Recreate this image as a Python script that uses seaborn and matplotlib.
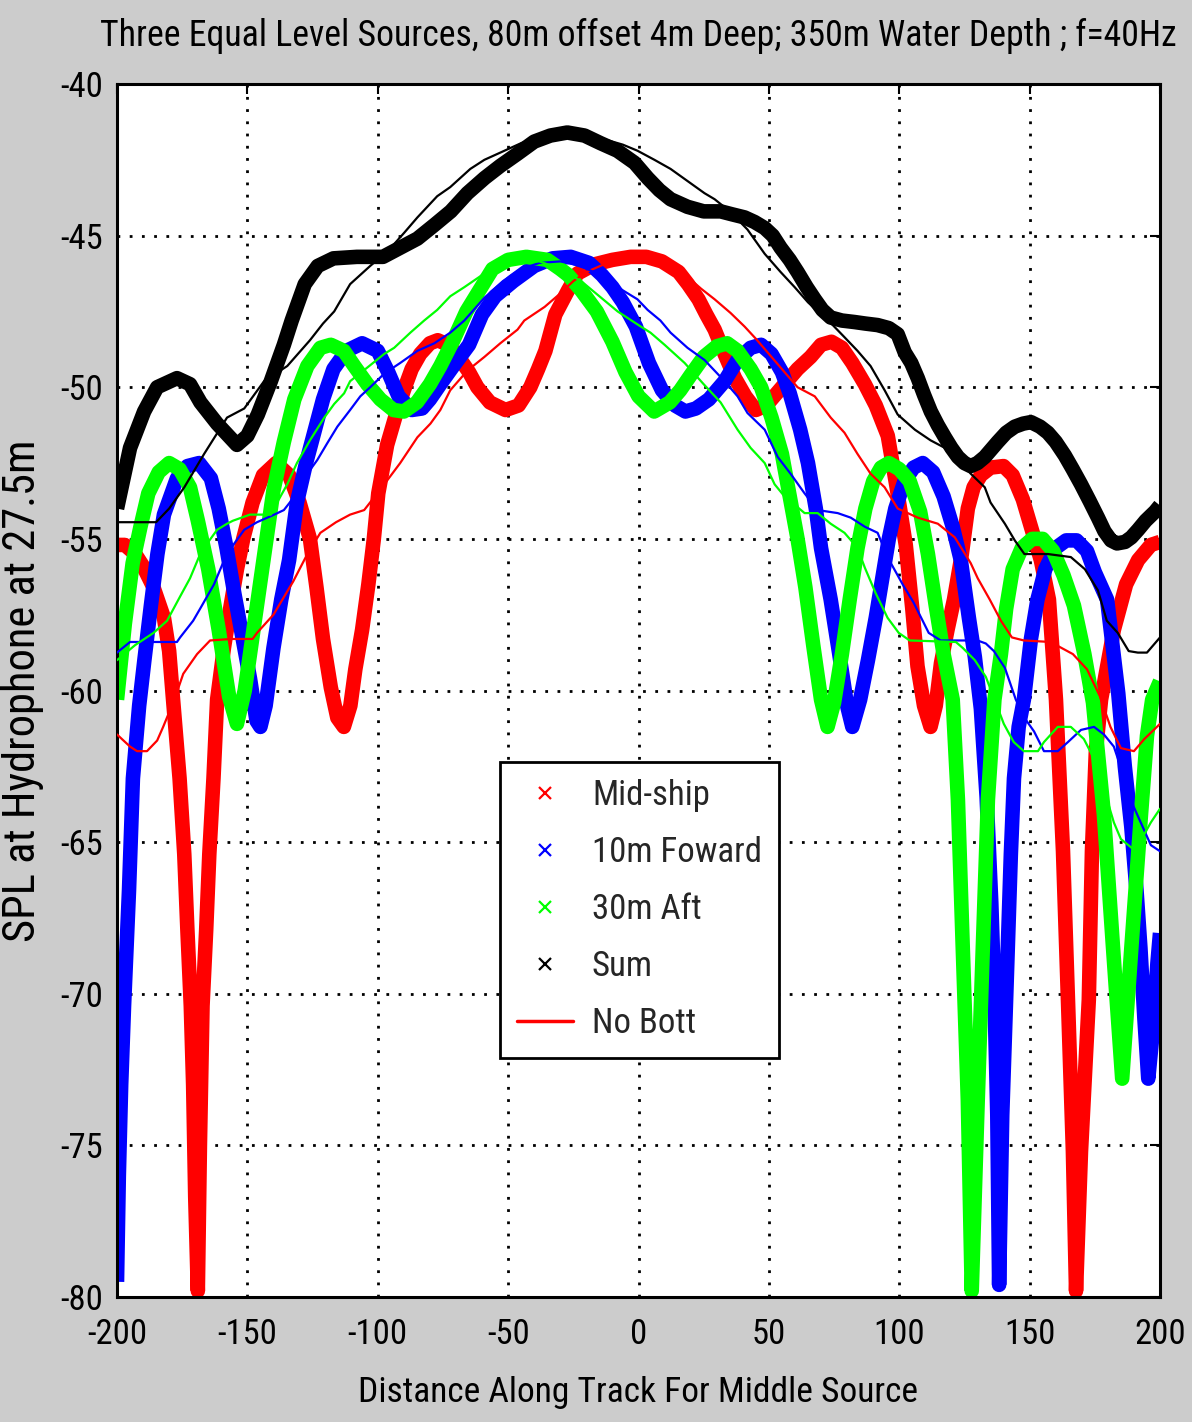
import matplotlib
matplotlib.use('Agg')
import matplotlib.pyplot as plt
from matplotlib import font_manager
from matplotlib.lines import Line2D
import seaborn as sns

# ---- data (x in m, SPL in dB) ----
# thick x-marker curves
mid_x = [-200, -197, -193, -190, -186, -182, -180, -178.5, -176, -174.2, -173, -171.7, -170.8, -170, -169, -168.2,
         -167.2, -165.8, -164.6, -163, -161.6, -159, -156.6, -154, -151.6, -148, -144, -139, -134, -130, -126,
         -123.5, -121, -118, -115.5, -113, -110.5, -108.6, -106, -103.6, -101.5, -99.8, -96.4, -93, -90, -87,
         -83.7, -80, -77, -73, -69, -65, -61.8, -57, -51, -46, -41.5, -38.5, -35.7, -31.9, -27, -23.4, -17, -10,
         -3, 3, 9, 15.4, 19, 23, 26, 29.2, 33, 37, 41, 45, 49, 53, 57, 61, 66, 70, 74, 78, 82, 86.8, 91, 95.6,
         99, 102.5, 105, 107, 109.5, 112, 114, 116, 118.5, 121, 124, 126.3, 128.5, 131.3, 135, 140, 143.5, 147.4,
         150.5, 154.3, 157.4, 160.1, 162.8, 164.7, 166.6, 167.8, 169.7, 172.7, 173.9, 175.4, 177.4, 182.3, 187,
         191.6, 196.5, 200]
mid_y = [-55.2, -55.2, -55.5, -55.9, -56.6, -57.6, -58.7, -60.3, -62.9, -65.4, -67.9, -70.4, -73.0, -76.7, -79.8,
         -75.0, -70.4, -67.9, -65.4, -62.9, -60.3, -58.6, -57.3, -56.0, -55.0, -53.8, -52.9, -52.5, -52.9, -53.8,
         -55.0, -56.6, -58.3, -59.9, -60.9, -61.2, -60.5, -59.3, -58.0, -56.5, -55.0, -53.5, -51.9, -50.9, -50.1,
         -49.4, -48.9, -48.55, -48.45, -48.6, -49.0, -49.5, -50.0, -50.5, -50.75, -50.6, -50.0, -49.4, -48.8,
         -47.6, -46.8, -46.25, -45.95, -45.8, -45.7, -45.7, -45.85, -46.2, -46.6, -47.1, -47.6, -48.1, -48.9,
         -49.7, -50.3, -50.75, -50.6, -50.2, -49.8, -49.4, -49.0, -48.6, -48.5, -48.7, -49.2, -49.9, -50.6, -51.6,
         -53.3, -55.2, -57.3, -59.2, -60.5, -61.2, -60.5, -59.1, -58.0, -57.0, -55.5, -54.0, -53.3, -52.9, -52.65,
         -52.6, -52.9, -53.7, -54.6, -55.7, -57.0, -60.3, -65.3, -70.2, -75.2, -79.8, -75.2, -70.2, -65.3, -62.0,
         -60.3, -58.0, -56.5, -55.7, -55.2, -55.1]

fwd_x = [-200, -199.3, -198.4, -197.3, -195.4, -193.9, -191.5, -189.5, -187, -184.5, -182, -177, -173, -168.5, -164,
         -161, -158, -155, -152, -149, -146.5, -145, -143, -140, -137, -134, -131, -127.5, -124.4, -121, -117, -112,
         -106, -100, -96, -92, -87, -83, -80, -76, -71, -65, -60, -55, -48, -40, -33, -26, -19, -14, -10, -6, -1, 4,
         9, 14, 18, 22, 27, 33, 38, 43, 47, 51, 55, 58, 62, 65, 68, 70, 73.7, 77, 80, 82, 85, 88, 91, 93.5, 96, 98.5,
         102, 105.5, 109, 113, 117, 120.5, 123.6, 126.7, 129, 131.3, 133.5, 135.3, 136.6, 137.6, 138.3, 139.5,
         140.9, 142.8, 144, 145.8, 147.8, 150.5, 153, 156, 160, 164, 168, 172, 175, 179.7, 184, 186.5, 189, 191,
         192.5, 194, 195.5, 197.5, 199, 200]
fwd_y = [-79.5, -76.0, -73.0, -70.4, -66.6, -62.9, -60.5, -59.0, -57.2, -55.5, -54.2, -53.0, -52.6, -52.5, -53.0,
         -54.0, -55.3, -56.8, -58.2, -59.6, -61.0, -61.2, -60.5, -58.6, -57.0, -55.7, -53.8, -52.5, -51.5, -50.4,
         -49.4, -48.8, -48.55, -48.8, -49.5, -50.3, -50.75, -50.7, -50.4, -49.9, -49.3, -48.6, -47.6, -47.0, -46.5,
         -46.0, -45.75, -45.7, -45.9, -46.3, -46.7, -47.2, -48.0, -49.2, -50.1, -50.6, -50.8, -50.7, -50.4, -49.8,
         -49.1, -48.7, -48.6, -48.9, -49.5, -50.2, -51.4, -52.5, -54.0, -55.3, -57.0, -58.8, -60.5, -61.2, -60.3,
         -59.0, -57.6, -56.3, -55.0, -54.0, -53.1, -52.65, -52.5, -52.8, -53.6, -54.6, -55.7, -57.6, -58.9, -60.6,
         -63.5, -67.0, -70.4, -74.0, -79.6, -74.0, -70.4, -65.4, -62.9, -61.2, -60.3, -58.3, -57.0, -56.0, -55.3,
         -55.05, -55.05, -55.4, -56.1, -57.0, -60.1, -62.5, -64.5, -66.6, -68.5, -70.8, -72.8, -71.0, -69.0, -68.0]

aft_x = [-200, -197, -194, -191, -188, -184, -180, -176, -172, -169, -165, -161, -157, -154, -151, -148, -146, -143,
         -140, -136, -132, -127, -122, -118, -113, -109, -104, -99, -94, -90, -85, -80, -76, -71, -66, -61, -56, -50,
         -43, -35, -30, -27, -22, -16, -10, -5, 0, 6, 12, 16, 20, 25, 30, 34, 38, 43, 47, 51, 55, 58, 61, 64, 67, 70,
         72.5, 75, 78, 81, 84, 87, 90, 93, 96, 100, 104, 108, 111, 114, 117, 120.5, 122.5, 124.4, 126.3, 127.8,
         130.1, 132, 134, 136.5, 139, 141, 143.5, 147, 151, 155, 159, 163, 167, 171, 174.3, 178.5, 182, 185.5, 189,
         192.7, 195, 197, 200]
aft_y = [-60.3, -57.8, -55.8, -54.6, -53.5, -52.8, -52.5, -52.7, -53.3, -54.4, -56.0, -58.0, -60.2, -61.1, -60.0,
         -58.2, -57.0, -55.2, -53.4, -51.8, -50.4, -49.3, -48.7, -48.6, -48.8, -49.3, -49.9, -50.4, -50.75, -50.8,
         -50.5, -49.9, -49.3, -48.45, -47.5, -46.8, -46.1, -45.8, -45.7, -45.8, -46.1, -46.3, -46.8, -47.5, -48.5,
         -49.5, -50.3, -50.8, -50.5, -50.1, -49.6, -49.0, -48.65, -48.55, -48.8, -49.4, -50.0, -51.0, -52.2, -53.6,
         -55.0, -56.6, -58.5, -60.3, -61.2, -60.4, -58.8, -57.0, -55.3, -54.0, -53.1, -52.65, -52.5, -52.7, -53.1,
         -54.1, -55.5, -57.2, -58.8, -60.3, -63.6, -68.6, -73.5, -79.8, -73.5, -68.6, -63.6, -60.3, -58.8, -57.3,
         -56.0, -55.3, -55.0, -55.0, -55.4, -56.2, -57.2, -58.8, -60.4, -64.1, -68.5, -72.8, -68.5, -64.1, -61.5,
         -60.3, -59.7]

sum_x = [-200, -197.5, -195, -189.6, -184.6, -177, -172, -168, -161.6, -154, -150, -146, -141, -136, -133, -128,
         -123, -117, -108, -98, -91.4, -84.8, -78.3, -72, -65.6, -59, -53, -46.4, -40, -33.8, -27.3, -20.7, -14.6,
         -8.1, -1.5, 3.5, 8, 12.3, 18.8, 25, 31.5, 36, 40.7, 44.5, 48.4, 51.5, 54.5, 58, 61, 64.5, 67.6, 70.5, 73.7,
         78, 82.9, 87, 91.7, 96, 99.4, 102.1, 104.6, 107.1, 109.5, 112.1, 114.8, 117.5, 120, 122.5, 125, 127.4, 130,
         132.8, 135.3, 137.8, 141, 144.3, 147.5, 150.5, 154, 157, 160, 163.5, 166.5, 169.7, 173, 176.2, 178.7,
         181.2, 183.5, 186.6, 189, 191.6, 194.5, 198.1, 200]
sum_y = [-54.0, -53.0, -52.0, -50.8, -50.0, -49.7, -49.9, -50.5, -51.2, -51.9, -51.6, -50.9, -49.8, -48.6, -47.8,
         -46.6, -46.0, -45.75, -45.7, -45.7, -45.4, -45.1, -44.65, -44.2, -43.6, -43.1, -42.7, -42.3, -41.9, -41.7,
         -41.6, -41.7, -41.95, -42.2, -42.6, -43.1, -43.5, -43.8, -44.05, -44.2, -44.2, -44.3, -44.4, -44.55, -44.75,
         -45.0, -45.4, -45.8, -46.2, -46.7, -47.1, -47.45, -47.7, -47.8, -47.85, -47.9, -47.95, -48.05, -48.25,
         -48.85, -49.2, -49.7, -50.25, -50.8, -51.25, -51.65, -52.0, -52.3, -52.5, -52.6, -52.5, -52.3, -52.05,
         -51.8, -51.5, -51.3, -51.2, -51.15, -51.3, -51.5, -51.8, -52.25, -52.7, -53.2, -53.75, -54.3, -54.75,
         -55.05, -55.15, -55.1, -54.95, -54.7, -54.4, -54.1, -53.9]

# thin "No Bott" curves
mid_nb_x = [-200, -195, -192.3, -188.5, -184.6, -182.3, -178, -174.6, -169.3, -164.3, -156, -148, -146.3, -140,
            -132.4, -127, -122, -116, -110.6, -105.2, -97.5, -91.4, -84.8, -79.8, -76, -72.2, -65.6, -59.1, -53,
            -46.4, -43.8, -36, -29.9, -25, -20, -12, -5, 0, 6, 12, 18, 24, 29.2, 35.3, 40.7, 45, 50, 55, 61, 67.6,
            73.7, 79, 84, 89, 94.4, 99.4, 107.1, 114.8, 121.3, 127.4, 130.1, 134.7, 139, 143.2, 147.8, 158, 166.6,
            172, 177, 181, 185, 190, 194, 200]
mid_nb_y = [-61.45, -61.85, -62.0, -62.0, -61.65, -61.2, -60.3, -59.45, -58.8, -58.35, -58.3, -58.3, -58.1, -57.5,
            -56.4, -55.5, -54.8, -54.45, -54.2, -54.05, -53.2, -52.5, -51.65, -51.2, -50.75, -50.1, -49.45, -49.0,
            -48.55, -48.1, -47.8, -47.35, -46.9, -46.5, -46.2, -45.9, -45.8, -45.8, -45.85, -46.0, -46.3, -46.75,
            -47.1, -47.55, -48.0, -48.4, -48.9, -49.4, -50.0, -50.3, -51.0, -51.5, -52.2, -52.85, -53.3, -54.0,
            -54.3, -54.5, -54.95, -55.8, -56.3, -57.0, -57.7, -58.25, -58.35, -58.4, -58.8, -59.3, -60.2, -61.2,
            -61.9, -62.0, -61.6, -61.1]

fwd_nb_x = [-200, -195, -185, -177, -175.8, -170.8, -168.1, -162.8, -158.9, -155, -151.2, -146.3, -139.7, -136,
            -131, -127, -123.2, -119.4, -115.5, -110.6, -106.7, -102.9, -97.5, -91.4, -84.8, -78.3, -72.2, -66.8,
            -59.1, -52, -45, -38, -30, -22, -15, -8, -0.4, 3.5, 8.4, 12.3, 18.8, 25.3, 33, 38, 41.8, 48.4, 53.4, 58.3,
            63.7, 68.7, 76.4, 81.4, 86.8, 91.7, 95.5, 101.3, 105.5, 111.3, 115.9, 130, 133.2, 136.3, 140.5, 144.7,
            148, 151.7, 155.5, 160.8, 164.7, 169.7, 174.7, 178.5, 182.3, 186, 190, 193.9, 196.5, 200]
fwd_nb_y = [-58.75, -58.4, -58.4, -58.4, -58.25, -57.7, -57.3, -56.5, -55.7, -55.15, -54.7, -54.45, -54.2, -54.05,
            -53.5, -52.85, -52.4, -51.85, -51.3, -50.75, -50.3, -50.0, -49.55, -49.2, -48.8, -48.55, -48.2, -47.8,
            -47.05, -46.5, -46.1, -45.9, -45.85, -46.0, -46.3, -46.7, -47.1, -47.45, -47.8, -48.2, -48.7, -49.1,
            -49.8, -50.3, -50.85, -51.4, -52.3, -52.85, -53.5, -54.05, -54.15, -54.3, -54.6, -54.8, -55.6, -56.5,
            -57.1, -58.1, -58.35, -58.35, -58.45, -58.7, -59.25, -60.3, -60.9, -61.35, -62.0, -62.0, -61.7, -61.3,
            -61.2, -61.45, -61.85, -62.8, -63.85, -64.6, -65.1, -65.3]

aft_nb_x = [-200, -193, -186, -180.8, -175.8, -172, -168.1, -165.4, -161.6, -157.8, -155.5, -149, -141, -138.6,
            -134.7, -131, -126, -120.5, -116.7, -112.9, -110.6, -104, -97.5, -93.7, -87.5, -82.2, -77.2, -72.2,
            -66.8, -60, -52, -45, -38, -30, -22, -15, -8, 0, 4.6, 10, 17.7, 25, 31.5, 38, 43, 48.4, 52.2, 56, 63.7,
            68.7, 73.7, 79, 84, 86.8, 91, 95.5, 99.8, 104, 121.7, 124.4, 129, 133.2, 137, 140.1, 143.9, 147.8, 153.2,
            155.5, 160.8, 165.8, 170.8, 175, 179, 182.3, 185, 190, 193.9, 196.5, 200]
aft_nb_y = [-59.0, -58.5, -58.1, -57.7, -56.9, -56.3, -55.5, -55.15, -54.7, -54.5, -54.4, -54.2, -54.2, -53.8,
            -53.2, -52.5, -51.75, -51.0, -50.55, -50.2, -49.8, -49.35, -48.9, -48.7, -48.2, -47.8, -47.45, -47.0,
            -46.7, -46.3, -46.0, -45.85, -45.85, -46.1, -46.5, -47.0, -47.5, -47.95, -48.2, -48.6, -49.2, -49.9,
            -50.5, -51.4, -52.0, -52.5, -53.2, -53.6, -54.15, -54.15, -54.5, -54.8, -55.3, -55.95, -56.8, -57.6,
            -58.1, -58.35, -58.4, -58.6, -59.0, -59.55, -60.4, -61.1, -61.7, -62.0, -62.0, -61.7, -61.2, -61.2,
            -61.6, -62.3, -63.4, -64.35, -64.9, -65.25, -64.75, -64.35, -63.9]

sum_nb_x = [-200, -192, -185, -180, -174.2, -166.6, -157.8, -151.2, -143.6, -134.7, -126, -121, -116.7, -110.6,
            -102.9, -96, -89.8, -84.8, -77.2, -72.2, -64.5, -59.1, -51.4, -45, -38, -30, -24, -18, -12, -6, -0.4,
            6.1, 12.3, 18.8, 25.3, 29.2, 35, 41.8, 48.4, 54.5, 59.9, 65, 70, 74.5, 79, 84, 89, 94.4, 99.4, 106, 112,
            117.5, 122, 127.4, 132.8, 135, 140.5, 144.3, 148, 157, 165.8, 171.2, 176.2, 179.6, 183.8, 188, 191.5, 195,
            199, 200]
sum_nb_y = [-54.45, -54.45, -54.45, -54.0, -53.3, -52.2, -51.0, -50.7, -49.8, -49.3, -48.45, -47.9, -47.5, -46.6,
            -46.0, -45.5, -44.9, -44.4, -43.7, -43.4, -42.8, -42.5, -42.2, -41.95, -41.75, -41.65, -41.65, -41.75,
            -41.85, -42.0, -42.2, -42.5, -42.8, -43.2, -43.6, -43.8, -44.2, -44.8, -45.6, -46.2, -46.7, -47.2, -47.6,
            -47.95, -48.35, -48.8, -49.3, -50.1, -50.9, -51.4, -51.75, -52.0, -52.35, -52.85, -53.3, -53.8, -54.5,
            -55.05, -55.5, -55.5, -55.6, -56.0, -56.7, -57.7, -58.1, -58.7, -58.75, -58.75, -58.35, -58.25]

labels = ['Mid-ship', '10m Foward', '30m Aft', 'Sum', 'No Bott']
colors = ['#ff0000', '#0000ff', '#00ff00', '#000000']
x_ticks = [-200, -150, -100, -50, 0, 50, 100, 150, 200]
y_ticks = [-80, -75, -70, -65, -60, -55, -50, -45, -40]

# ---- style ----
sns.set_theme(style='white')
fonts = font_manager.fontManager.ttflist
names = [f.name for f in fonts]
font = 'DejaVu Sans'
for cand in ['Liberation Sans Narrow', 'Noto Sans ExtraCondensed', 'Noto Sans Condensed', 'Roboto Condensed',
             'Open Sans Condensed', 'DejaVu Sans Condensed', 'Arial Narrow']:
    if cand in names:
        font = cand
        break
else:
    for n in names:
        if ('Condensed' in n or 'Narrow' in n) and 'Mono' not in n and 'Serif' not in n:
            font = n
            break
plt.rcParams['font.family'] = [font, 'DejaVu Sans']
plt.rcParams['font.stretch'] = 'condensed'
plt.rcParams['axes.unicode_minus'] = False

fig = plt.figure(figsize=(11.92, 14.22), dpi=100, facecolor='#cccccc')
ax = fig.add_axes([117 / 1192, 1 - 1297 / 1422, (1160 - 117) / 1192, (1297 - 84) / 1422])
ax.set_facecolor('white')

thick = [(mid_x, mid_y), (fwd_x, fwd_y), (aft_x, aft_y), (sum_x, sum_y)]
thin = [(mid_nb_x, mid_nb_y), (fwd_nb_x, fwd_nb_y), (aft_nb_x, aft_nb_y), (sum_nb_x, sum_nb_y)]

for (xs, ys), c in zip(thick, colors):
    sns.lineplot(x=xs, y=ys, color=c, lw=10.5, sort=False, estimator=None, ax=ax,
                 solid_joinstyle='round', solid_capstyle='butt', zorder=2)
for (xs, ys), c in zip(thin, colors):
    sns.lineplot(x=xs, y=ys, color=c, lw=1.6, sort=False, estimator=None, ax=ax, zorder=3)

ax.set_xlim(-200, 200)
ax.set_ylim(-80, -40)
ax.set_xticks(x_ticks)
ax.set_yticks(y_ticks)
ax.set_axisbelow(True)
ax.grid(True, color='black', linestyle=(0, (1, 3.4)), linewidth=2)
ax.tick_params(direction='in', length=7, width=1.5, top=True, right=True, colors='black', labelsize=22)
ax.tick_params(axis='x', pad=15)
ax.tick_params(axis='y', pad=10)
for s in ax.spines.values():
    s.set_color('black')
    s.set_linewidth(2.2)

title = ax.set_title('Three Equal Level Sources, 80m offset 4m Deep; 350m Water Depth ; f=40Hz',
                     fontsize=28, pad=27, color='black')
xl = ax.set_xlabel('Distance Along Track For Middle Source', fontsize=28, labelpad=18, color='black')
yl = ax.set_ylabel('SPL at Hydrophone at 27.5m', fontsize=28, labelpad=12, color='black')

handles = [Line2D([], [], marker='x', ls='none', color=c, ms=9, mew=1.6) for c in colors]
handles.append(Line2D([], [], color='#ff0000', lw=2.5))


def make_legend(fs, spacing):
    lg = ax.legend(handles, labels, loc='upper left', bbox_to_anchor=(0.367, 0.441), frameon=True,
                   fancybox=False, edgecolor='black', facecolor='white', framealpha=1, fontsize=fs,
                   handlelength=1.6, handletextpad=0.55, labelspacing=spacing, borderpad=0.5, borderaxespad=0)
    lg.get_frame().set_linewidth(2)
    lg.set_zorder(10)
    return lg


leg = make_legend(24, 0.5)

# fit text sizes to the reference layout (cap at the reference letter height)
MAX_PT = 32
fig.canvas.draw()
for t, target in [(title, 1075), (xl, 560)]:
    w = t.get_window_extent().width
    t.set_fontsize(min(MAX_PT, t.get_fontsize() * target / w))
h = yl.get_window_extent().height
yl.set_fontsize(min(MAX_PT, yl.get_fontsize() * 587 / h))
w = ax.get_xticklabels()[0].get_window_extent().width
ax.tick_params(labelsize=min(28, 22 * 60 / w))

w = leg.get_texts()[1].get_window_extent().width
fs = min(27, 24 * 170 / w)
leg = make_legend(fs, 0.5)
fig.canvas.draw()
ts = leg.get_texts()
pitch = abs(ts[0].get_window_extent().y0 - ts[1].get_window_extent().y0)
fs_px = fs * 100 / 72
leg = make_legend(fs, 0.5 + (57 - pitch) / fs_px)

fig.savefig('out.png', dpi=100, facecolor=fig.get_facecolor())
